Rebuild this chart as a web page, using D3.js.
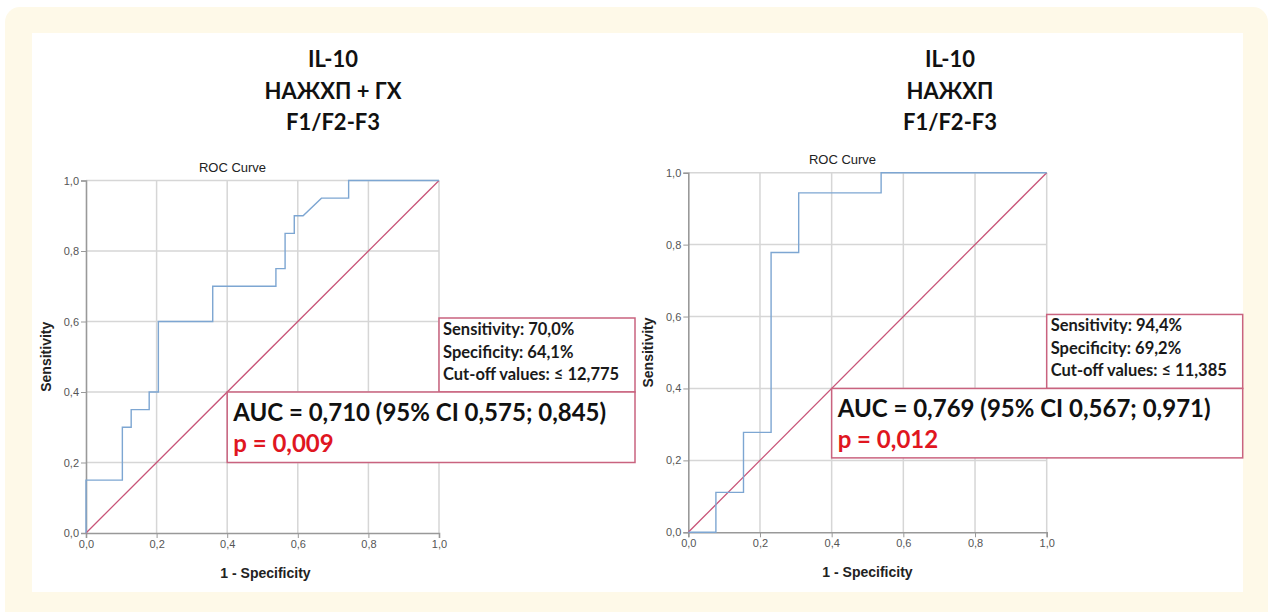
<!DOCTYPE html>
<html>
<head>
<meta charset="utf-8">
<script src="https://cdn.jsdelivr.net/npm/d3@7"></script>
<style>
  body { margin: 0; background: #fff; }
  svg { display: block; }
</style>
</head>
<body>
<div class="container"></div>
<script>
// ROC curve A: IL-10, НАЖХП + ГХ, F1/F2-F3
const rocA_fpr = [0, 0, 0.103, 0.103, 0.128, 0.128, 0.179, 0.179, 0.205, 0.205, 0.359, 0.359, 0.538, 0.538, 0.564, 0.564, 0.590, 0.590, 0.615, 0.667, 0.744, 0.744, 1.0]
const rocA_tpr = [0, 0.15, 0.15, 0.30, 0.30, 0.35, 0.35, 0.40, 0.40, 0.60, 0.60, 0.70, 0.70, 0.75, 0.75, 0.85, 0.85, 0.90, 0.90, 0.95, 0.95, 1.0, 1.0]
const titleA = ["IL-10", "НАЖХП + ГХ", "F1/F2-F3"]
const statsA = ["Sensitivity: 70,0%", "Specificity: 64,1%", "Cut-off values: ≤ 12,775"]
const aucA = ["AUC = 0,710 (95% CI 0,575; 0,845)", "p = 0,009"]

// ROC curve B: IL-10, НАЖХП, F1/F2-F3
const rocB_fpr = [0, 0.077, 0.077, 0.154, 0.154, 0.231, 0.231, 0.308, 0.308, 0.538, 0.538, 1.0]
const rocB_tpr = [0, 0, 0.111, 0.111, 0.278, 0.278, 0.778, 0.778, 0.944, 0.944, 1.0, 1.0]
const titleB = ["IL-10", "НАЖХП", "F1/F2-F3"]
const statsB = ["Sensitivity: 94,4%", "Specificity: 69,2%", "Cut-off values: ≤ 11,385"]
const aucB = ["AUC = 0,769 (95% CI 0,567; 0,971)", "p = 0,012"]

const ticks = [0, 0.2, 0.4, 0.6, 0.8, 1.0]

const width = 1273, height = 612
const fmt = d => d3.format(".1f")(d).replace(".", ",")

const svg = d3.select(".container").append("svg")
    .attr("width", width)
    .attr("height", height)

// frame
svg.append("rect").attr("x", 5).attr("y", 7).attr("width", 1263).attr("height", 640)
    .attr("rx", 15).attr("fill", "#fef9e8")
svg.append("rect").attr("x", 32).attr("y", 33).attr("width", 1211).attr("height", 559)
    .attr("fill", "#fff")

function drawPanel(cfg, fpr, tpr, title, stats, auc) {
    const x = d3.scaleLinear().domain([0, 1]).range([cfg.left, cfg.right])
    const y = d3.scaleLinear().domain([0, 1]).range([cfg.bottom, cfg.top])
    const g = svg.append("g")

    // title
    g.append("text")
        .attr("x", cfg.titleX).attr("y", 67)
        .attr("text-anchor", "middle")
        .style("font", "bold 22px Lato")
        .attr("fill", "#111")
        .selectAll("tspan").data(title).join("tspan")
        .attr("x", cfg.titleX)
        .attr("dy", (d, i) => i ? 31.5 : 0)
        .text(d => d)

    g.append("text")
        .attr("x", (cfg.left + cfg.right) / 2 + cfg.rocShift).attr("y", cfg.top - 9)
        .attr("text-anchor", "middle")
        .style("font", "13px 'Liberation Sans'")
        .attr("fill", "#222")
        .text("ROC Curve")

    // grid
    g.append("g").selectAll("line").data(ticks.slice(1)).join("line")
        .attr("x1", d => x(d)).attr("x2", d => x(d))
        .attr("y1", y(0)).attr("y2", y(1))
        .attr("stroke", "#d6d6d6").attr("stroke-width", 1.5)
    g.append("g").selectAll("line").data(ticks.slice(1)).join("line")
        .attr("y1", d => y(d)).attr("y2", d => y(d))
        .attr("x1", x(0)).attr("x2", x(1))
        .attr("stroke", "#d6d6d6").attr("stroke-width", 1.5)

    // axes
    const yAxis = g.append("g")
        .attr("transform", `translate(${x(0)},0)`)
        .call(d3.axisLeft(y).tickValues(ticks).tickFormat(fmt).tickSize(5).tickPadding(2))
    const xAxis = g.append("g")
        .attr("transform", `translate(0,${y(0)})`)
        .call(d3.axisBottom(x).tickValues(ticks).tickFormat(fmt).tickSize(5).tickPadding(2))
    for (const ax of [xAxis, yAxis]) {
        ax.select(".domain").attr("stroke", "#999").attr("stroke-width", 1.6)
        ax.selectAll(".tick line").attr("stroke", "#999")
        ax.selectAll(".tick text").attr("fill", "#555").style("font", "11px 'Liberation Sans'")
    }

    g.append("text")
        .attr("transform", `translate(${cfg.left - 35},${(cfg.top + cfg.bottom) / 2}) rotate(-90)`)
        .attr("text-anchor", "middle")
        .style("font", "bold 14px 'Liberation Sans'")
        .attr("fill", "#222")
        .text("Sensitivity")
    g.append("text")
        .attr("x", (cfg.left + cfg.right) / 2 + cfg.xlabShift).attr("y", cfg.bottom + 45)
        .attr("text-anchor", "middle")
        .style("font", "bold 14px 'Liberation Sans'")
        .attr("fill", "#222")
        .text("1 - Specificity")

    // reference diagonal
    g.append("line")
        .attr("x1", x(0)).attr("y1", y(0)).attr("x2", x(1)).attr("y2", y(1))
        .attr("stroke", "#c85478").attr("stroke-width", 1.3)

    // ROC curve
    const pts = fpr.map((f, i) => [f, tpr[i]])
    g.append("path")
        .datum(pts)
        .attr("fill", "none")
        .attr("stroke", "#7da6d2")
        .attr("stroke-width", 1.4)
        .attr("d", d3.line().x(d => x(d[0])).y(d => y(d[1])))

    // small stats box
    const boxR = x(1) + 196
    const sb = g.append("g")
    sb.append("rect")
        .attr("x", x(1)).attr("y", y(0.4) - 74)
        .attr("width", boxR - x(1)).attr("height", 74)
        .attr("fill", "#fff").attr("stroke", "#c9637f").attr("stroke-width", 1.5)
    sb.append("g").selectAll("text").data(stats).join("text")
        .attr("x", x(1) + 4)
        .attr("y", (d, i) => y(0.4) - 57 + i * 22.5)
        .style("font", "bold 16.5px Lato")
        .attr("fill", "#1a1a1a")
        .text(d => d)

    // AUC box
    const ab = g.append("g")
    ab.append("rect")
        .attr("x", x(0.4)).attr("y", y(0.4))
        .attr("width", boxR - x(0.4)).attr("height", y(0.2) - y(0.4) - cfg.boxTrim)
        .attr("fill", "#fff").attr("stroke", "#c9637f").attr("stroke-width", 1.5)
    ab.append("g").selectAll("text").data(auc).join("text")
        .attr("x", x(0.4) + 6)
        .attr("y", (d, i) => y(0.4) + 29 + i * 31)
        .style("font", "bold 24px Lato")
        .attr("fill", (d, i) => i ? "#e0161f" : "#111")
        .text(d => d)
}

drawPanel({ left: 86, right: 439, top: 180.5, bottom: 533, titleX: 333, boxTrim: 0, rocShift: -30, xlabShift: 3 },
    rocA_fpr, rocA_tpr, titleA, statsA, aucA)
drawPanel({ left: 688.3, right: 1046.7, top: 172.7, bottom: 532.3, titleX: 950, boxTrim: 2.5, rocShift: -25, xlabShift: 0 },
    rocB_fpr, rocB_tpr, titleB, statsB, aucB)
</script>
</body>
</html>
